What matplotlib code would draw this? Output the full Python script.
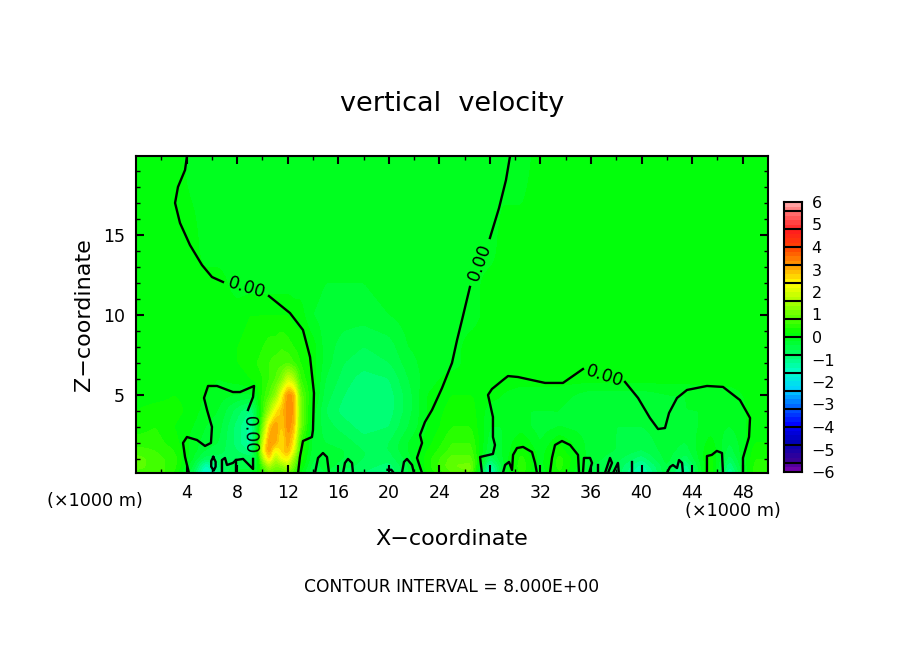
import numpy as np
import matplotlib
matplotlib.use('Agg')
import matplotlib.pyplot as plt
from matplotlib.colors import LinearSegmentedColormap, BoundaryNorm

# field, x and z in km
x_grid = [0, 1.5, 3, 4.5, 5.5, 6.5, 8, 9, 9.5, 10, 10.5, 11, 11.5, 12, 12.5, 13, 14, 15, 16.5, 18,
          20, 21.5, 23, 25, 26.5, 28, 29, 30.5, 32, 33.5, 36, 38, 40, 42, 43.5, 45.5, 47, 49, 50]
z_grid = [0.1, 0.5, 1, 1.5, 2, 3, 4, 5, 6, 7, 8, 10, 12, 14, 19.8]

w_z00 = [.7, .8, .4, -.6, -1.8, -.9, -.3, -.2, 0, .5, 1.0, .8, .8, 1.0, .6, 0, -.6, -.4, -.8, -.8,
         -1.0, -.4, .2, .8, 1.0, -1.7, -.3, .5, -.2, .4, -.5, -.6, -1.5, -.4, -1.3, .4, -1.2, .5, .5]
w_z01 = [.9, .7, .5, -.4, -1.5, -.8, -.5, -.5, -.2, .8, 1.6, 1.2, 1.3, 1.7, 1.0, .2, -.5, -.3, -.5, -.7,
         -.9, -.4, .3, 1.0, 1.1, -1.3, -.3, .6, -.1, .5, -.4, -.6, -1.3, -.4, -1.1, .4, -1.0, .5, .5]
w_z02 = [.9, .7, .5, -.2, -.7, -.7, -.6, -.7, -.3, 1.6, 2.8, 1.6, 2.3, 2.5, 1.4, .4, -.4, -.3, -.4, -.6,
         -.7, -.3, .3, .9, .9, -.7, -.2, .5, -.1, .5, -.3, -.5, -.9, -.3, -.7, .3, -.7, .4, .4]
w_z03 = [.7, .6, .4, -.1, -.4, -.5, -.8, -1.0, -.1, 2.3, 3.3, 2.3, 2.7, 3.1, 2.1, .5, -.3, -.3, -.4, -.6,
         -.6, -.2, .2, .7, .7, -.4, -.2, .3, -.1, .3, -.3, -.4, -.6, -.3, -.5, .2, -.5, .3, .3]
w_z04 = [.5, .5, .3, -.1, -.3, -.4, -.9, -1.3, -.3, 2.0, 3.3, 3.1, 2.5, 3.2, 2.5, .6, -.3, -.4, -.5, -.7,
         -.6, -.2, .1, .6, .6, -.3, -.2, .2, -.2, .2, -.3, -.4, -.5, -.3, -.4, .1, -.4, .2, .2]
w_z05 = [.3, .4, .2, 0, -.2, -.3, -.9, -1.3, -.4, 1.2, 2.8, 3.3, 2.7, 3.4, 3.0, 1.1, -.2, -.5, -.7, -.9,
         -.8, -.4, 0, .4, .4, -.2, -.2, -.1, -.3, -.2, -.3, -.4, -.4, -.3, -.3, -.1, -.2, .1, .1]
w_z06 = [.2, .3, .3, .1, -.1, -.2, -.7, -1.0, -.4, .6, 1.5, 2.5, 2.9, 3.4, 3.2, 1.2, -.1, -.6, -.9, -1.0,
         -.9, -.5, 0, .3, .3, -.1, -.1, -.2, -.2, -.2, -.4, -.4, -.3, -.3, -.2, -.2, -.2, .1, .1]
w_z07 = [.1, .1, .2, .1, 0, -.1, -.2, -.2, 0, .5, .8, 1.3, 2.4, 3.4, 3.1, 1.0, .1, -.5, -.8, -1.0,
         -.9, -.5, 0, .2, .2, .1, 0, -.1, -.1, -.1, -.3, -.3, -.3, -.2, -.2, -.1, -.1, .1, .1]
w_z08 = [.1, .1, .1, .1, .1, 0, .1, .2, .3, .4, .6, .8, 1.2, 2.0, 1.6, .6, .1, -.4, -.7, -.9,
         -.8, -.4, -.1, .1, .1, .1, .1, .1, .1, .1, .1, .1, .1, .1, .1, .1, .1, .1, .1]
w_z09 = [.1, .1, .1, .1, .1, .1, .2, .3, .4, .5, .6, .7, .7, .8, .6, .4, .1, -.3, -.6, -.7,
         -.6, -.3, -.1, -.1, .1, .1, .1, .1, .1, .1, .1, .1, .1, .1, .1, .1, .1, .1, .1]
w_z10 = [.1, .1, .1, .1, .1, .1, .2, .3, .3, .4, .5, .5, .6, .5, .4, .3, .1, -.3, -.5, -.6,
         -.5, -.2, -.1, -.1, .1, .1, .1, .1, .1, .1, .1, .1, .1, .1, .1, .1, .1, .1, .1]
w_z11 = [.1, .1, .1, .1, .1, .1, .1, .2, .2, .2, .2, .2, .2, .2, .1, .1, -.2, -.3, -.3, -.3,
         -.2, -.1, -.1, -.1, -.1, .1, .1, .1, .1, .1, .1, .1, .1, .1, .1, .1, .1, .1, .1]
w_z12 = [.1, .1, .1, .1, .1, .1, -.1, -.1, -.1, -.1, -.1, -.1, -.1, -.1, -.1, -.1, -.1, -.2, -.2, -.2,
         -.1, -.1, -.1, -.1, -.1, .1, .1, .1, .1, .1, .1, .1, .1, .1, .1, .1, .1, .1, .1]
w_z13 = [.1, .1, .1, .1, -.1, -.1, -.1, -.1, -.1, -.1, -.1, -.1, -.1, -.1, -.1, -.1, -.1, -.1, -.1, -.1,
         -.1, -.1, -.1, -.1, -.1, -.1, .1, .1, .1, .1, .1, .1, .1, .1, .1, .1, .1, .1, .1]
w_z14 = [.1, .1, .1, -.1, -.1, -.1, -.1, -.1, -.1, -.1, -.1, -.1, -.1, -.1, -.1, -.1, -.1, -.1, -.1, -.1,
         -.1, -.1, -.1, -.1, -.1, -.1, -.1, -.1, .1, .1, .1, .1, .1, .1, .1, .1, .1, .1, .1]

w_rows = [w_z00, w_z01, w_z02, w_z03, w_z04, w_z05, w_z06, w_z07, w_z08, w_z09, w_z10, w_z11, w_z12, w_z13, w_z14]

# zero contour, traced by hand
line_a = [(4.03, 19.8), (3.88, 18.94), (3.32, 17.88), (3.09, 16.88), (3.48, 15.63), (4.27, 14.25), (5.22, 13.0),
          (6.01, 12.25), (6.88, 11.94)]
line_a2 = [(10.52, 11.06), (12.18, 10.0), (13.21, 8.94), (13.77, 7.25), (14.08, 5.0), (14.0, 2.69), (13.92, 2.25),
           (13.21, 2.0), (12.97, 1.0), (12.82, 0)]
line_b = [(4.19, 0), (3.88, 1.0), (3.72, 1.88), (4.03, 2.25), (4.83, 2.06), (5.46, 1.69), (5.93, 1.88), (6.01, 2.88),
          (5.62, 3.94), (5.38, 4.69), (5.70, 5.44), (6.41, 5.44), (7.67, 5.06), (8.23, 5.06), (9.34, 5.44),
          (9.26, 4.75), (8.86, 3.94)]
line_b2 = [(6.80, 0), (6.80, 0.81), (7.04, 0.94), (7.2, 0.5), (7.67, 0.63), (7.91, 0.81), (8.47, 0.88), (9.26, 0.25),
           (9.26, 0.88)]
stub_b = [(7.91, 0.81), (7.91, 0)]
loop_b = [(6.11, 1.0), (6.3, 0.7), (6.3, 0.4), (6.15, 0.15), (5.95, 0.4), (5.95, 0.75), (6.11, 1.0)]
line_c = [(22.63, 0), (22.23, 0.94), (22.63, 1.88), (22.47, 2.38), (22.86, 3.19), (23.42, 3.94), (24.21, 5.31),
          (25.0, 6.88), (25.4, 8.31), (25.79, 9.56), (26.42, 11.63)]
line_c2 = [(28.0, 14.69), (28.72, 16.56), (29.27, 18.31), (29.59, 19.8)]
line_d = [(27.37, 0), (27.22, 1.0), (28.24, 1.19), (28.4, 1.75), (28.24, 2.25), (28.24, 3.5), (27.85, 4.88),
          (28.16, 5.25), (29.03, 5.81), (29.43, 6.06), (30.22, 6.0), (32.36, 5.63), (33.78, 5.63), (35.36, 6.5)]
line_d2 = [(38.69, 5.69), (39.72, 4.69), (40.66, 3.44), (41.3, 2.75), (41.85, 2.81), (42.17, 3.75), (42.8, 4.69),
           (43.59, 5.19), (45.17, 5.44), (46.44, 5.38), (47.78, 4.56), (48.58, 3.44), (48.5, 2.25), (48.02, 0.94),
           (48.02, 0)]
bumps = [
    [(14.16, 0), (14.4, 0.94), (14.79, 1.25), (15.11, 1.0), (15.27, 0)],
    [(16.38, 0), (16.53, 0.63), (16.77, 0.88), (17.09, 0.63), (17.17, 0)],
    [(19.9, 0.2), (20.2, 0.2), (20.4, 0)],
    [(21.04, 0), (21.2, 0.69), (21.44, 0.88), (21.84, 0.5), (21.99, 0)],
    [(29.03, 0), (29.2, 0.5), (29.51, 0.69), (29.75, 0.19), (29.83, 1.13), (30.14, 1.56), (30.62, 1.63), (31.33, 1.31),
     (31.57, 0.63), (31.72, 0)],
    [(32.75, 0), (32.91, 0.94), (33.15, 1.75), (33.7, 2), (34.34, 1.75), (34.97, 1.13), (35.05, 0)],
    [(35.36, 0), (35.44, 0.94), (35.92, 0.94), (36.08, 0.63), (35.84, 0)],
    [(36.55, 0), (36.55, 0.5)],
    [(37.1, 0), (37.5, 0.94), (37.66, 0.63), (37.34, 0)],
    [(37.74, 0), (38.13, 0.63), (38.2, 0)],
    [(39.24, 0), (39.24, 0.7)],
    [(42.0, 0), (42.25, 0.38), (42.48, 0.5), (42.8, 0.31), (42.96, 0.81), (43.2, 0.63), (43.27, 0)],
    [(45.17, 0), (45.17, 1.06), (45.55, 1.13), (45.95, 1.38), (46.36, 1.25), (46.44, 0)],
]
all_lines = [line_a, line_a2, line_b, line_b2, stub_b, loop_b, line_c, line_c2, line_d, line_d2] + bumps

# label x, z, rotation
label_x = [8.78, 27.2, 37.1, 9.0]
label_z = [11.56, 13.2, 6.06, 2.4]
label_rot = [-17, 70, -18, -88]

cbar_ticks = [6, 5, 4, 3, 2, 1, 0, -1, -2, -3, -4, -5, -6]
cbar_lines = [-5.6, -4.8, -4.0, -3.2, -2.4, -1.6, -0.8, 0, 0.8, 1.6, 2.4, 3.2, 4.0, 4.8, 5.6]

# colours along the colorbar
cmap_vals = [-6, -5.6, -4.8, -4, -3.2, -2.4, -1.6, -0.8, -0.2, 0.2, 0.8, 1.6, 2.4, 3.2, 4, 4.8, 5.6, 6]
cmap_cols = ['#6e00aa', '#3a0096', '#0000b4', '#0000ff', '#0064ff', '#00d2ff', '#00ffc8', '#00ff64', '#00ff28',
             '#04ff00', '#50ff00', '#aaff00', '#ffff00', '#ffa000', '#ff4600', '#ff1e1e', '#ff6e6e', '#ffa0a0']
cmap = LinearSegmentedColormap.from_list('wvel', [((v + 6) / 12, c) for v, c in zip(cmap_vals, cmap_cols)], N=480)
levels = np.arange(-6, 6.01, 0.2)
norm = BoundaryNorm(levels, cmap.N)

# the plot frame starts just above z=0, 5 km sits 78 px up from the frame bottom
z_bottom = 0.125
z_top = 19.94

# upsample the table onto the plot pixels
W = 904
H = 654
x_fine = np.linspace(0, 50, 632)
z_fine = np.linspace(z_bottom, z_top, 317)
w_x = np.array([np.interp(x_fine, x_grid, row) for row in w_rows])
w_fine = np.array([np.interp(z_fine, z_grid, w_x[:, i]) for i in range(len(x_fine))]).T
kernel = np.ones(5) / 5
w_fine = np.apply_along_axis(lambda r: np.convolve(np.pad(r, 2, mode='edge'), kernel, mode='valid'), 1, w_fine)
w_fine = np.apply_along_axis(lambda r: np.convolve(np.pad(r, 2, mode='edge'), kernel, mode='valid'), 0, w_fine)

fig = plt.figure(figsize=(W / 100, H / 100), dpi=100)
ax = fig.add_axes([136 / W, 1 - 473 / H, 632 / W, 317 / H])
ax.imshow(w_fine, origin='lower', extent=[0, 50, z_bottom, z_top], aspect='auto', cmap=cmap, norm=norm,
          interpolation='nearest')
for line in all_lines:
    pts = np.array(line)
    ax.plot(pts[:, 0], pts[:, 1] + z_bottom, color='k', lw=1.7, solid_joinstyle='round', clip_on=True)
for x, z, r in zip(label_x, label_z, label_rot):
    ax.text(x, z + z_bottom, '0.00', rotation=r, ha='center', va='center', fontsize=12.5, rotation_mode='anchor')

ax.set_xlim(0, 50)
ax.set_ylim(z_bottom, z_top)
ax.set_xticks(np.arange(4, 49, 4))
ax.set_xticks(np.arange(2, 50, 4), minor=True)
ax.set_yticks([5, 10, 15])
ax.set_yticks(np.arange(1, 20), minor=True)
ax.tick_params(which='major', direction='in', length=6, width=1.5, top=True, right=True, labelsize=12.5, pad=8)
ax.tick_params(which='minor', direction='in', length=3, width=1, top=True, right=True)
for s in ax.spines.values():
    s.set_linewidth(1.5)

# colorbar
cax = fig.add_axes([784 / W, 1 - 472 / H, 18 / W, 270 / H])
grad = np.linspace(-6, 6, 271).reshape(-1, 1)
cax.imshow(grad, origin='lower', extent=[0, 1, -6, 6], aspect='auto', cmap=cmap, norm=norm, interpolation='nearest')
cax.hlines(cbar_lines, 0, 1, color='k', lw=1.5)
cax.set_xticks([])
cax.set_yticks(cbar_ticks)
cax.set_yticklabels([str(t).replace('-', '\u2212') for t in cbar_ticks], fontsize=11.5)
cax.yaxis.tick_right()
cax.tick_params(axis='y', length=0, pad=7)
for s in cax.spines.values():
    s.set_linewidth(1.5)

fig.text(452 / W, 1 - 104 / H, 'vertical  velocity', ha='center', va='center', fontsize=19.5)
fig.text(452 / W, 1 - 539 / H, 'X\u2212coordinate', ha='center', va='center', fontsize=16)
fig.text(84 / W, 1 - 315 / H, 'Z\u2212coordinate', ha='center', va='center', rotation=90, fontsize=16)
fig.text(95 / W, 1 - 501 / H, '(\u00d71000 m)', ha='center', va='center', fontsize=12.7)
fig.text(733 / W, 1 - 511 / H, '(\u00d71000 m)', ha='center', va='center', fontsize=12.7)
fig.text(452 / W, 1 - 587 / H, 'CONTOUR INTERVAL = 8.000E+00', ha='center', va='center', fontsize=12.3)

fig.savefig('out.png', dpi=100)
